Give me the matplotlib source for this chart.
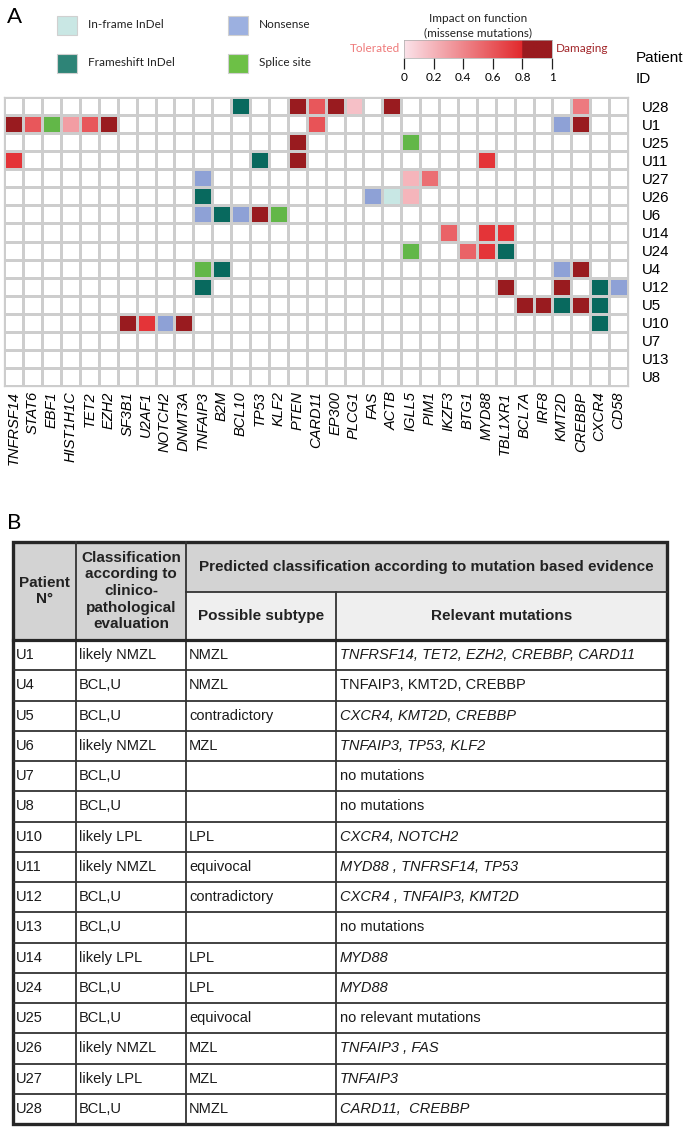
import numpy as np
import matplotlib
matplotlib.use('Agg')
import matplotlib.pyplot as plt
from matplotlib.colors import LinearSegmentedColormap, ListedColormap, to_rgb
from matplotlib.patches import Rectangle

# ---------------- data ----------------
patients = ['U28', 'U1', 'U25', 'U11', 'U27', 'U26', 'U6', 'U14', 'U24', 'U4',
            'U12', 'U5', 'U10', 'U7', 'U13', 'U8']
genes = ['TNFRSF14', 'STAT6', 'EBF1', 'HIST1H1C', 'TET2', 'EZH2', 'SF3B1', 'U2AF1',
         'NOTCH2', 'DNMT3A', 'TNFAIP3', 'B2M', 'BCL10', 'TP53', 'KLF2', 'PTEN',
         'CARD11', 'EP300', 'PLCG1', 'FAS', 'ACTB', 'IGLL5', 'PIM1', 'IKZF3', 'BTG1',
         'MYD88', 'TBL1XR1', 'BCL7A', 'IRF8', 'KMT2D', 'CREBBP', 'CXCR4', 'CD58']

mut_patient = ['U28', 'U28', 'U28', 'U28', 'U28', 'U28', 'U28',
               'U1', 'U1', 'U1', 'U1', 'U1', 'U1', 'U1', 'U1', 'U1',
               'U25', 'U25',
               'U11', 'U11', 'U11', 'U11',
               'U27', 'U27', 'U27',
               'U26', 'U26', 'U26', 'U26',
               'U6', 'U6', 'U6', 'U6', 'U6',
               'U14', 'U14', 'U14',
               'U24', 'U24', 'U24', 'U24',
               'U4', 'U4', 'U4', 'U4',
               'U12', 'U12', 'U12', 'U12', 'U12',
               'U5', 'U5', 'U5', 'U5', 'U5',
               'U10', 'U10', 'U10', 'U10', 'U10']
mut_gene = ['BCL10', 'PTEN', 'CARD11', 'EP300', 'PLCG1', 'ACTB', 'CREBBP',
            'TNFRSF14', 'STAT6', 'EBF1', 'HIST1H1C', 'TET2', 'EZH2', 'CARD11', 'KMT2D', 'CREBBP',
            'PTEN', 'IGLL5',
            'TNFRSF14', 'TP53', 'PTEN', 'MYD88',
            'TNFAIP3', 'IGLL5', 'PIM1',
            'TNFAIP3', 'FAS', 'ACTB', 'IGLL5',
            'TNFAIP3', 'B2M', 'BCL10', 'TP53', 'KLF2',
            'IKZF3', 'MYD88', 'TBL1XR1',
            'IGLL5', 'BTG1', 'MYD88', 'TBL1XR1',
            'TNFAIP3', 'B2M', 'KMT2D', 'CREBBP',
            'TNFAIP3', 'TBL1XR1', 'KMT2D', 'CXCR4', 'CD58',
            'BCL7A', 'IRF8', 'KMT2D', 'CREBBP', 'CXCR4',
            'SF3B1', 'U2AF1', 'NOTCH2', 'DNMT3A', 'CXCR4']
mut_type = ['frameshift', 'missense', 'missense', 'missense', 'missense', 'missense', 'missense',
            'missense', 'missense', 'splice', 'missense', 'missense', 'missense', 'missense', 'nonsense', 'missense',
            'missense', 'splice',
            'missense', 'frameshift', 'missense', 'missense',
            'nonsense', 'missense', 'missense',
            'frameshift', 'nonsense', 'inframe', 'missense',
            'nonsense', 'frameshift', 'nonsense', 'missense', 'splice',
            'missense', 'missense', 'missense',
            'splice', 'missense', 'missense', 'frameshift',
            'splice', 'frameshift', 'nonsense', 'missense',
            'frameshift', 'missense', 'missense', 'frameshift', 'nonsense',
            'missense', 'missense', 'frameshift', 'missense', 'frameshift',
            'missense', 'missense', 'nonsense', 'missense', 'frameshift']
mut_score = [np.nan, 0.9, 0.6, 0.9, 0.15, 0.9, 0.45,
             0.9, 0.6, np.nan, 0.3, 0.6, 0.9, 0.62, np.nan, 0.9,
             0.9, np.nan,
             0.75, np.nan, 0.9, 0.75,
             np.nan, 0.2, 0.5,
             np.nan, np.nan, np.nan, 0.2,
             np.nan, np.nan, np.nan, 0.9, np.nan,
             0.55, 0.75, 0.75,
             np.nan, 0.55, 0.75, np.nan,
             np.nan, np.nan, np.nan, 0.9,
             np.nan, 0.9, 0.9, np.nan, np.nan,
             0.9, 0.9, np.nan, 0.9, np.nan,
             0.9, 0.75, np.nan, 0.9, np.nan]

cat_types = ['inframe', 'frameshift', 'nonsense', 'splice']
cat_labels = ['In-frame InDel', 'Frameshift InDel', 'Nonsense', 'Splice site']
cbar_ticks = [0, 0.2, 0.4, 0.6, 0.8, 1]
cbar_ticklabels = ['0', '0.2', '0.4', '0.6', '0.8', '1']

tbl_patient = ['U1', 'U4', 'U5', 'U6', 'U7', 'U8', 'U10', 'U11', 'U12', 'U13',
               'U14', 'U24', 'U25', 'U26', 'U27', 'U28']
tbl_clinical = ['likely NMZL', 'BCL,U', 'BCL,U', 'likely NMZL', 'BCL,U', 'BCL,U',
                'likely LPL', 'likely NMZL', 'BCL,U', 'BCL,U', 'likely LPL', 'BCL,U',
                'BCL,U', 'likely NMZL', 'likely LPL', 'BCL,U']
tbl_subtype = ['NMZL', 'NMZL', 'contradictory', 'MZL', '', '', 'LPL', 'equivocal',
               'contradictory', '', 'LPL', 'LPL', 'equivocal', 'MZL', 'MZL', 'NMZL']
tbl_mutations = ['TNFRSF14, TET2, EZH2, CREBBP, CARD11', 'TNFAIP3, KMT2D, CREBBP',
                 'CXCR4, KMT2D, CREBBP', 'TNFAIP3, TP53, KLF2', 'no mutations',
                 'no mutations', 'CXCR4, NOTCH2', 'MYD88 , TNFRSF14, TP53',
                 'CXCR4 , TNFAIP3, KMT2D', 'no mutations', 'MYD88', 'MYD88',
                 'no relevant mutations', 'TNFAIP3 , FAS', 'TNFAIP3', 'CARD11,  CREBBP']
tbl_italic = [True, False, True, True, False, False, True, True, True, False,
              True, True, False, True, True, True]

# ---------------- styles ----------------
W, H = 685, 1128
fig = plt.figure(figsize=(W / 100, H / 100), dpi=100)
fig.patch.set_facecolor('white')

ARIAL = ['Liberation Sans', 'DejaVu Sans']
NARROW = ['Liberation Sans Narrow', 'Liberation Sans', 'DejaVu Sans']
HUMAN = ['Lato', 'DejaVu Sans']

def fx(x):
    return x / W

def fy(y):
    return 1 - y / H

c0, c1, c2 = to_rgb('#fbe3ea'), to_rgb('#e2292c'), to_rgb('#991b1f')
seg = {}
for k, ch in enumerate(['red', 'green', 'blue']):
    seg[ch] = [(0.0, c0[k], c0[k]), (0.8, c1[k], c2[k]), (1.0, c2[k], c2[k])]
missense_cmap = LinearSegmentedColormap('impact', seg, N=512)

cat_colors_cells = ['#c8e7e4', '#08695e', '#8ea1d6', '#62b748']
cat_colors_legend = ['#c9e7e4', '#2e8477', '#9cb0e0', '#6dc046']
grid_col = '#cdcdcd'

# ---------------- overlay axes (legend + table) ----------------
ov = fig.add_axes([0, 0, 1, 1])
ov.set_xlim(0, W)
ov.set_ylim(H, 0)
ov.axis('off')

ov.text(7, 17, 'A', fontsize=16, family=HUMAN, va='center', ha='left')
ov.text(7, 523, 'B', fontsize=16, family=HUMAN, va='center', ha='left')

leg_pos = [(57, 25), (57, 63), (228, 25), (228, 63)]
for (lx, ly), col, lab in zip(leg_pos, cat_colors_legend, cat_labels):
    ov.add_patch(Rectangle((lx, ly - 9.5), 20, 19, facecolor=col, edgecolor='#d0d0d0', lw=0.8))
    ov.text(lx + 31, ly, lab, fontsize=8.5, family=HUMAN, va='center', ha='left', color='#222222')

ov.text(478, 18, 'Impact on function', fontsize=8.5, family=HUMAN, ha='center', va='center', color='#222222')
ov.text(478, 33, '(missense mutations)', fontsize=8.5, family=HUMAN, ha='center', va='center', color='#222222')
ov.text(400, 49, 'Tolerated', fontsize=8.5, family=HUMAN, ha='right', va='center', color='#ef7a7a')
ov.text(556, 49, 'Damaging', fontsize=8.5, family=HUMAN, ha='left', va='center', color='#a2262a')
ov.text(636, 58, 'Patient', fontsize=11, family=ARIAL, ha='left', va='center')
ov.text(636, 79, 'ID', fontsize=11, family=ARIAL, ha='left', va='center')

# table
col_x = [13, 76, 186, 336, 667]
t_top, t_mid, t_hdr, t_bot = 542, 592, 640, 1124
nrows = len(tbl_patient)
rh = (t_bot - t_hdr) / nrows
hdr_gray, sub_gray, line_col = '#d3d3d3', '#efefef', '#333333'

ov.add_patch(Rectangle((col_x[0], t_top), col_x[2] - col_x[0], t_hdr - t_top, facecolor=hdr_gray, edgecolor='none'))
ov.add_patch(Rectangle((col_x[2], t_top), col_x[4] - col_x[2], t_mid - t_top, facecolor=hdr_gray, edgecolor='none'))
ov.add_patch(Rectangle((col_x[2], t_mid), col_x[4] - col_x[2], t_hdr - t_mid, facecolor=sub_gray, edgecolor='none'))

for i in range(1, nrows):
    yy = t_hdr + i * rh
    ov.plot([col_x[0], col_x[4]], [yy, yy], color=line_col, lw=1.3, solid_capstyle='butt')
ov.plot([col_x[2], col_x[4]], [t_mid, t_mid], color=line_col, lw=1.3)
ov.plot([col_x[1], col_x[1]], [t_top, t_bot], color=line_col, lw=1.3)
ov.plot([col_x[2], col_x[2]], [t_top, t_bot], color=line_col, lw=1.3)
ov.plot([col_x[3], col_x[3]], [t_mid, t_bot], color=line_col, lw=1.3)
ov.plot([col_x[0], col_x[4]], [t_hdr, t_hdr], color='#262626', lw=2.3)
ov.add_patch(Rectangle((col_x[0], t_top), col_x[4] - col_x[0], t_bot - t_top,
                       facecolor='none', edgecolor='#262626', lw=2.4))

hfs = 11
ov.text((col_x[0] + col_x[1]) / 2, 591, 'Patient\nN°', fontsize=hfs, family=NARROW, weight='bold',
        ha='center', va='center', linespacing=1.2, color='#222222')
ov.text((col_x[1] + col_x[2]) / 2, 591, 'Classification\naccording to\nclinico-\npathological\nevaluation',
        fontsize=hfs, family=NARROW, weight='bold', ha='center', va='center', linespacing=1.25, color='#222222')
ov.text((col_x[2] + col_x[4]) / 2, (t_top + t_mid) / 2,
        'Predicted classification according to mutation based evidence',
        fontsize=hfs, family=NARROW, weight='bold', ha='center', va='center', color='#222222')
ov.text((col_x[2] + col_x[3]) / 2, (t_mid + t_hdr) / 2, 'Possible subtype', fontsize=hfs,
        family=NARROW, weight='bold', ha='center', va='center', color='#222222')
ov.text((col_x[3] + col_x[4]) / 2, (t_mid + t_hdr) / 2, 'Relevant mutations', fontsize=hfs,
        family=NARROW, weight='bold', ha='center', va='center', color='#222222')

dfs = 10.5
for i in range(nrows):
    yc = t_hdr + (i + 0.5) * rh
    ov.text(col_x[0] + 3, yc, tbl_patient[i], fontsize=dfs, family=NARROW, va='center', ha='left', color='#1a1a1a')
    ov.text(col_x[1] + 3, yc, tbl_clinical[i], fontsize=dfs, family=NARROW, va='center', ha='left', color='#1a1a1a')
    ov.text(col_x[2] + 3, yc, tbl_subtype[i], fontsize=dfs, family=NARROW, va='center', ha='left', color='#1a1a1a')
    ov.text(col_x[3] + 4, yc, tbl_mutations[i], fontsize=dfs, family=NARROW, va='center', ha='left',
            style='italic' if tbl_italic[i] else 'normal', color='#1a1a1a')

# ---------------- heatmap ----------------
ax = fig.add_axes([fx(4.3), fy(385.7), fx(628 - 4.3), (385.7 - 97.3) / H])
nr, nc = len(patients), len(genes)
score = np.full((nr, nc), np.nan)
cat = np.full((nr, nc), np.nan)
for p, g, t, s in zip(mut_patient, mut_gene, mut_type, mut_score):
    r, c = patients.index(p), genes.index(g)
    if t == 'missense':
        score[r, c] = s
    else:
        cat[r, c] = cat_types.index(t)

xe, ye = np.arange(nc + 1), np.arange(nr + 1)
ax.pcolormesh(xe, ye, np.zeros((nr, nc)), cmap=ListedColormap(['white']), vmin=0, vmax=1,
              edgecolors=grid_col, linewidth=0.9)
ax.pcolormesh(xe, ye, np.ma.masked_invalid(score), cmap=missense_cmap, vmin=0, vmax=1,
              edgecolors=grid_col, linewidth=0.9)
ax.pcolormesh(xe, ye, np.ma.masked_invalid(cat), cmap=ListedColormap(cat_colors_cells),
              vmin=-0.5, vmax=3.5, edgecolors=grid_col, linewidth=0.9)
ax.set_xlim(0, nc)
ax.set_ylim(nr, 0)
ax.set_xticks(np.arange(nc) + 0.5)
ax.set_xticklabels(genes, rotation=90, fontstyle='italic', fontsize=10.5, family=ARIAL)
ax.set_yticks(np.arange(nr) + 0.5)
ax.yaxis.tick_right()
ax.set_yticklabels(patients, fontsize=10.8, family=ARIAL)
ax.tick_params(axis='x', length=0, pad=4)
ax.tick_params(axis='y', length=0, pad=10)
for sp in ax.spines.values():
    sp.set_color(grid_col)
    sp.set_linewidth(0.9)

# ---------------- colorbar ----------------
cax = fig.add_axes([fx(404), fy(58), fx(148), 18 / H])
grad = np.linspace(0, 1, 512)[None, :]
cax.imshow(grad, aspect='auto', cmap=missense_cmap, extent=[0, 1, 0, 1], vmin=0, vmax=1)
cax.set_xlim(0, 1)
cax.set_yticks([])
cax.set_xticks(cbar_ticks)
cax.set_xticklabels(cbar_ticklabels, fontsize=8.5, family=HUMAN)
cax.tick_params(axis='x', length=8, width=0.9, pad=2, color='#222222')
for sp in cax.spines.values():
    sp.set_color('#aaaaaa')
    sp.set_linewidth(0.5)

fig.savefig('out.png', dpi=100, facecolor='white')
